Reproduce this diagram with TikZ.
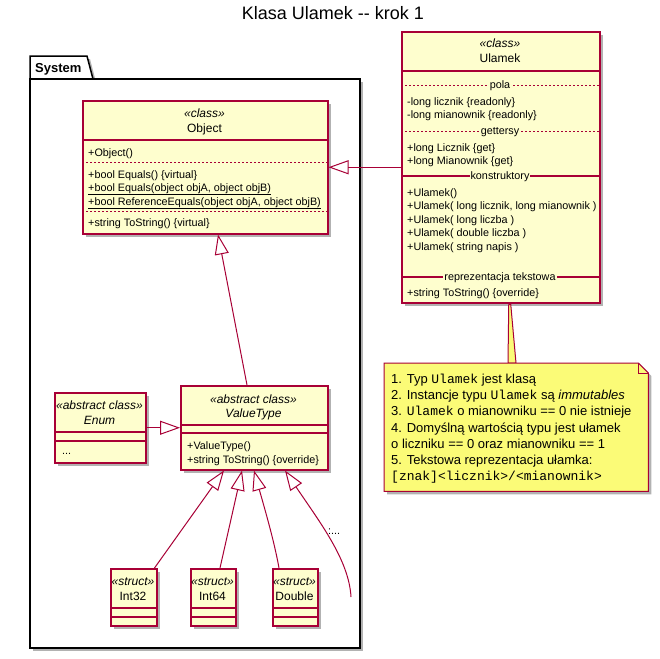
\documentclass[tikz,border=0pt]{standalone}
\usepackage{fontspec}
\setmainfont{Liberation Sans}
\setmonofont{Liberation Mono}
\usetikzlibrary{arrows.meta,calc,shadows}
\definecolor{clsfill}{HTML}{FEFECE}
\definecolor{clsline}{HTML}{A80036}
\definecolor{notefill}{HTML}{FBFB77}
\tikzset{
  shad/.style={drop shadow={shadow xshift=3pt,shadow yshift=-3pt,opacity=0.3,fill=black}},
  cls/.style={draw=clsline,fill=clsfill,line width=1.5pt,inner sep=0pt,anchor=north west,shad},
  stereo/.style={font=\fontsize{12}{14}\selectfont\itshape,anchor=base,inner sep=0pt},
  cname/.style={font=\fontsize{12}{14}\selectfont,anchor=base,inner sep=0pt},
  cnamei/.style={font=\fontsize{12}{14}\selectfont\itshape,anchor=base,inner sep=0pt},
  row/.style={font=\fontsize{10.8}{13}\selectfont,anchor=base west,inner sep=0pt},
  seclbl/.style={font=\fontsize{10.8}{13}\selectfont,anchor=base,inner sep=1pt,fill=clsfill},
  solidsep/.style={draw=clsline,line width=1.5pt},
  dashsep/.style={draw=clsline,line width=0.8pt,dash pattern=on 2pt off 2pt},
  inh/.style={draw=clsline,line width=1pt,-{Triangle[open,length=20pt,width=14pt]}},
  notetxt/.style={font=\fontsize{13}{16}\selectfont,anchor=base west,inner sep=0pt},
  pkg/.style={draw=black,fill=white,line width=1.5pt,shad}
}
\begin{document}
\begin{tikzpicture}[x=1pt,y=-1pt]
\useasboundingbox (0,0) rectangle (659,659);
\fill[white] (0,0) rectangle (659,659);
% title
\node[font=\fontsize{18}{21}\selectfont,anchor=base,inner sep=0pt] (title) at (333,19) {Klasa Ulamek -{}- krok 1};
% package
\draw[pkg] (30,79) -- (30,56) -- (87,56) -- (93,79) -- cycle;
\draw[pkg] (30,79) rectangle (360,648);
\node[font=\fontsize{13}{15}\selectfont\bfseries,anchor=base west,inner sep=0pt] (pkglbl) at (35,72.5) {System};
% Object
\node[cls,minimum width=245pt,minimum height=133pt] (obj) at (82,100) {};
\node[stereo] at (204.5,117.5) {«class»};
\node[cname] at (204.5,132) {Object};
\draw[solidsep] (82,140) -- (327,140);
\node[row] at (88,156) {+Object()};
\draw[dashsep] (82,162) -- (327,162);
\node[row] at (88,178) {+bool Equals() \{virtual\}};
\node[row] at (88,191) {\underline{+bool Equals(object objA, object objB)}};
\node[row] at (88,205) {\underline{+bool ReferenceEquals(object objA, object objB)}};
\draw[dashsep] (82,211) -- (327,211);
\node[row] at (88,226.3) {+string ToString() \{virtual\}};
% Ulamek
\node[cls,minimum width=198pt,minimum height=271pt] (ulamek) at (401,31) {};
\node[stereo] at (500,47.5) {«class»};
\node[cname] at (500,62.5) {Ulamek};
\draw[solidsep] (401,71) -- (599,71);
\draw[dashsep] (401,85) -- (599,85);
\node[seclbl] at (500,88.5) {pola};
\node[row] at (407,105.3) {-long licznik \{readonly\}};
\node[row] at (407,118.3) {-long mianownik \{readonly\}};
\draw[dashsep] (401,131) -- (599,131);
\node[seclbl] at (500,134.5) {gettersy};
\node[row] at (407,151.3) {+long Licznik \{get\}};
\node[row] at (407,164.3) {+long Mianownik \{get\}};
\draw[solidsep] (401,176) -- (599,176);
\node[seclbl] at (500,179.5) {konstruktory};
\node[row] at (407,196.3) {+Ulamek()};
\node[row] at (407,209.8) {+Ulamek( long licznik, long mianownik )};
\node[row] at (407,223.2) {+Ulamek( long liczba )};
\node[row] at (407,236.8) {+Ulamek( double liczba )};
\node[row] at (407,250.3) {+Ulamek( string napis )};
\draw[solidsep] (401,277) -- (599,277);
\node[seclbl] at (500,280.5) {reprezentacja tekstowa};
\node[row] at (407,296.3) {+string ToString() \{override\}};
% ValueType
\node[cls,minimum width=147pt,minimum height=84pt] (vt) at (180,385) {};
\node[stereo] at (253.5,403) {«abstract class»};
\node[cnamei] at (253.5,417) {ValueType};
\draw[solidsep] (180,425) -- (327,425);
\draw[solidsep] (180,433) -- (327,433);
\node[row] at (187,449.7) {+ValueType()};
\node[row] at (187,463) {+string ToString() \{override\}};
% Enum
\node[cls,minimum width=91pt,minimum height=70pt] (enum) at (54,392) {};
\node[stereo] at (99.5,409.5) {«abstract class»};
\node[cnamei] at (99.5,424.6) {Enum};
\draw[solidsep] (54,432) -- (145,432);
\draw[solidsep] (54,441) -- (145,441);
\node[row] at (62,454) {...};
% structs
\node[cls,minimum width=46pt,minimum height=57pt] (int32) at (110,568) {};
\node[stereo] at (133,585.5) {«struct»};
\node[cname] at (133,600.3) {Int32};
\draw[solidsep] (110,608) -- (156,608);
\draw[solidsep] (110,617) -- (156,617);
\node[cls,minimum width=45pt,minimum height=57pt] (int64) at (190,568) {};
\node[stereo] at (212.5,585.5) {«struct»};
\node[cname] at (212.5,600.3) {Int64};
\draw[solidsep] (190,608) -- (235,608);
\draw[solidsep] (190,617) -- (235,617);
\node[cls,minimum width=45pt,minimum height=57pt] (double) at (272,568) {};
\node[stereo] at (294.5,585.5) {«struct»};
\node[cname] at (294.5,600.3) {Double};
\draw[solidsep] (272,608) -- (317,608);
\draw[solidsep] (272,617) -- (317,617);
% connectors
\draw[inh] (ulamek.west) -- (obj.east);
\draw[inh] (enum.east) -- (vt.west);
\draw[inh] ($(vt.north west)+(67,0)$) -- ($(obj.south west)+(136,0)$);
\draw[inh] ($(int32.north east)+(-3,0)$) -- ($(vt.south west)+(44,0)$);
\draw[inh] ($(int64.north west)+(30,0)$) -- ($(vt.south west)+(62,0)$);
\draw[inh] ($(double.north west)+(7,0)$) .. controls +(-5,-28) and +(10,36) .. ($(vt.south west)+(74,0)$);
\coordinate (more) at (351,597);
\draw[inh] (more) .. controls +(-2,-37) and +(35,52) .. ($(vt.south west)+(105,0)$);
\node[row] (morelbl) at (328,534.5) {:...};
% note
\node[minimum width=264pt,minimum height=128pt,anchor=north west,inner sep=0pt] (note) at (384,363) {};
\draw[draw=clsline,fill=notefill,line width=1pt] ($(ulamek.south)+(8,1)$) -- ($(note.north west)+(124,0)$) -- ($(note.north west)+(132,0)$) -- ($(ulamek.south)+(10,1)$) -- cycle;
\draw[draw=clsline,fill=notefill,line width=1pt,shad] (note.north west) -- ($(note.north east)+(-10,0)$) -- ($(note.north east)+(0,10)$) -- (note.south east) -- (note.south west) -- cycle;
\draw[draw=clsline,line width=1pt] ($(note.north east)+(-10,0)$) -- ($(note.north east)+(-10,10)$) -- ($(note.north east)+(0,10)$);
\node[notetxt] at (391,383.5) {1. Typ \texttt{Ulamek} jest klasą};
\node[notetxt] at (391,399.7) {2. Instancje typu \texttt{Ulamek} są \textit{immutables}};
\node[notetxt] at (391,415.9) {3. \texttt{Ulamek} o mianowniku == 0 nie istnieje};
\node[notetxt] at (391,432.1) {4. Domyślną wartością typu jest ułamek};
\node[notetxt] at (391,448.3) {o liczniku == 0 oraz mianowniku == 1};
\node[notetxt] at (391,464.5) {5. Tekstowa reprezentacja ułamka:};
\node[notetxt] at (391,480.7) {\texttt{[znak]<licznik>/<mianownik>}};
\end{tikzpicture}
\end{document}
